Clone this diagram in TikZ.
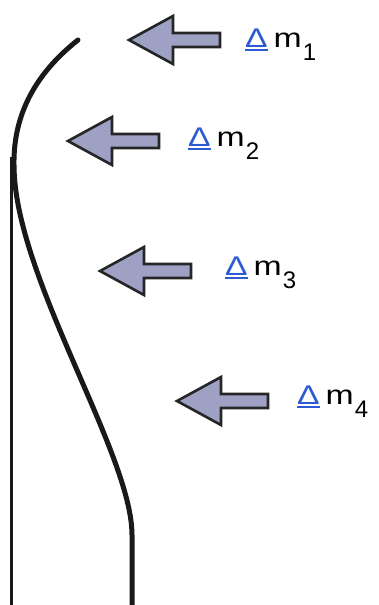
\documentclass[tikz,border=0pt]{standalone}
\usepackage{fontspec}
\setmainfont{Liberation Sans}
\newfontfamily\labfont[FakeStretch=1.25]{Liberation Sans}
\newfontfamily\subfont{Liberation Sans}
\usetikzlibrary{positioning}
\definecolor{arrowfill}{RGB}{158,161,196}
\definecolor{deltablue}{RGB}{45,90,210}
\newcommand{\ulbox}[1]{\setbox0\hbox{#1}\rlap{\rule[-4pt]{\wd0}{2pt}}\box0}
\newcommand{\dmtext}[1]{\textcolor{deltablue}{\ulbox{Δ}}\hspace{6pt}m\hspace{1pt}\raisebox{-13pt}{\subfont\fontsize{24}{24}\selectfont #1}}
\tikzset{
  wall/.style={line width=5pt, line cap=round, black!90},
  plate/.style={line width=3pt, black!90},
  inflow/.style={draw=black!85, line width=2.6pt, fill=arrowfill, line join=miter},
  dmlab/.style={anchor=base west, inner sep=0pt, font=\labfont\fontsize{27}{30}\selectfont},
}

\begin{document}
\begin{tikzpicture}[x=1pt, y=-1pt]
  \useasboundingbox (0,0) rectangle (379,605);
  % straight plate
  \coordinate (ptop) at (11,157);
  \coordinate (pbot) at (11,605);
  \draw[plate] (ptop) -- (pbot);
  % bent wall
  \coordinate (wtop) at (78,40);
  \coordinate (wknee) at (14,165);
  \coordinate (wfoot) at (132,535);
  \coordinate (wbot) at (132,605);
  \draw[wall] (wtop) .. controls (40,70) and (13,110) .. (wknee)
    .. controls (14,276) and (132,453) .. (wfoot) -- (wbot);
  % incoming mass
  \foreach \i/\tx/\ty/\lx/\by in {1/129/40/245/47, 2/68/141/188/146, 3/100/271/225/275, 4/177/401/297/404} {
    \coordinate (tip\i) at (\tx,\ty);
    \draw[inflow] (tip\i) -- ++(44,-24) -- ++(0,17) -- ++(47,0) -- ++(0,14)
      -- ++(-47,0) -- ++(0,17) -- cycle;
    \node[dmlab] (dm\i) at (\lx,\by) {\dmtext{\i}};
  }
\end{tikzpicture}
\end{document}
